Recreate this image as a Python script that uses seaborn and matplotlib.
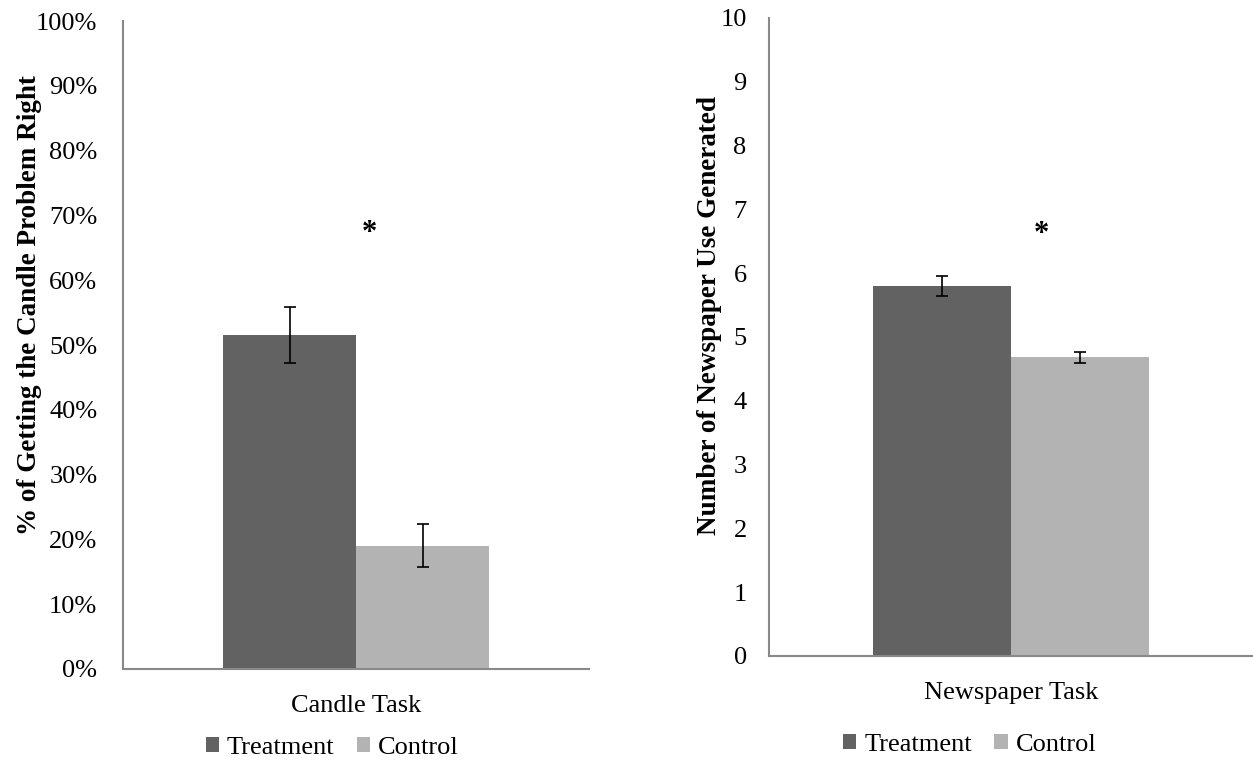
"""
Candle task vs newspaper task: treatment and control bars with error bars
"""
import matplotlib
matplotlib.use('Agg')
import matplotlib.pyplot as plt
import seaborn as sns
import pandas as pd
from matplotlib.ticker import PercentFormatter, MultipleLocator

# data
groups = ['Treatment', 'Control']
candle_task = ['Candle Task']
candle_means = [0.516, 0.190]
candle_errs = [0.043, 0.033]
news_task = ['Newspaper Task']
news_means = [5.80, 4.68]
news_errs = [0.16, 0.08]
star_y = [0.672, 6.61]

colors = {'Treatment': '#626262', 'Control': '#b3b3b3'}
spine_color = '#898989'
FS = 19

sns.set_theme(style='white')
plt.rcParams['font.family'] = ['Liberation Serif', 'DejaVu Serif']
plt.rcParams['text.color'] = 'black'
plt.rcParams['axes.labelcolor'] = 'black'

fig = plt.figure(figsize=(12.53, 7.65), dpi=100)
ax_left = fig.add_axes([0.0982, 0.1255, 0.372, 0.847])
ax_right = fig.add_axes([0.6137, 0.1425, 0.386, 0.834])


def draw_panel(ax, task, means, errs, ylim, step, ylabel, star_x, star,
               label_xy, ypad, legend_xy):
    df = pd.DataFrame({'task': task * len(groups), 'group': groups, 'value': means})
    sns.barplot(data=df, x='task', y='value', hue='group', palette=colors,
                width=0.57, errorbar=None, saturation=1, linewidth=0, ax=ax)
    for container, err in zip(ax.containers, errs):
        for bar in container:
            cx = bar.get_x() + bar.get_width() / 2
            ax.errorbar(cx, bar.get_height(), yerr=err, fmt='none',
                        ecolor='black', elinewidth=1.2, capsize=4.5, capthick=1.2)
    ax.text(star_x, star, '*', ha='center', va='center', fontsize=22,
            fontweight='bold', color='black')
    ax.set_xlim(-0.5, 0.5)
    ax.set_ylim(*ylim)
    ax.yaxis.set_major_locator(MultipleLocator(step))
    ax.set_xlabel('')
    ax.set_ylabel(ylabel, fontsize=FS + 0.5, fontweight='bold')
    ax.yaxis.set_label_coords(*label_xy)
    ax.tick_params(axis='both', length=0, labelsize=FS, colors='black')
    ax.tick_params(axis='y', pad=ypad)
    ax.tick_params(axis='x', pad=18.5)
    for side in ['top', 'right']:
        ax.spines[side].set_visible(False)
    for side in ['left', 'bottom']:
        ax.spines[side].set_color(spine_color)
        ax.spines[side].set_linewidth(1.5)
    handles, labels = ax.get_legend_handles_labels()
    ax.legend(handles, labels, loc='center', bbox_to_anchor=legend_xy,
              ncol=2, frameon=False, fontsize=FS, handlelength=0.5,
              handleheight=0.5, handletextpad=0.3, columnspacing=0.85)


draw_panel(ax_left, candle_task, candle_means, candle_errs, (0, 1), 0.1,
           '% of Getting the Candle Problem Right', 0.028, star_y[0],
           (-0.174, 0.562), 18.5, (0.449, -0.122))
ax_left.yaxis.set_major_formatter(PercentFormatter(1.0, decimals=0))

draw_panel(ax_right, news_task, news_means, news_errs, (0, 10), 1,
           'Number of Newspaper Use Generated', 0.064, star_y[1],
           (-0.097, 0.533), 16, (0.415, -0.140))

plt.savefig('out.png', dpi=100)
plt.close()
